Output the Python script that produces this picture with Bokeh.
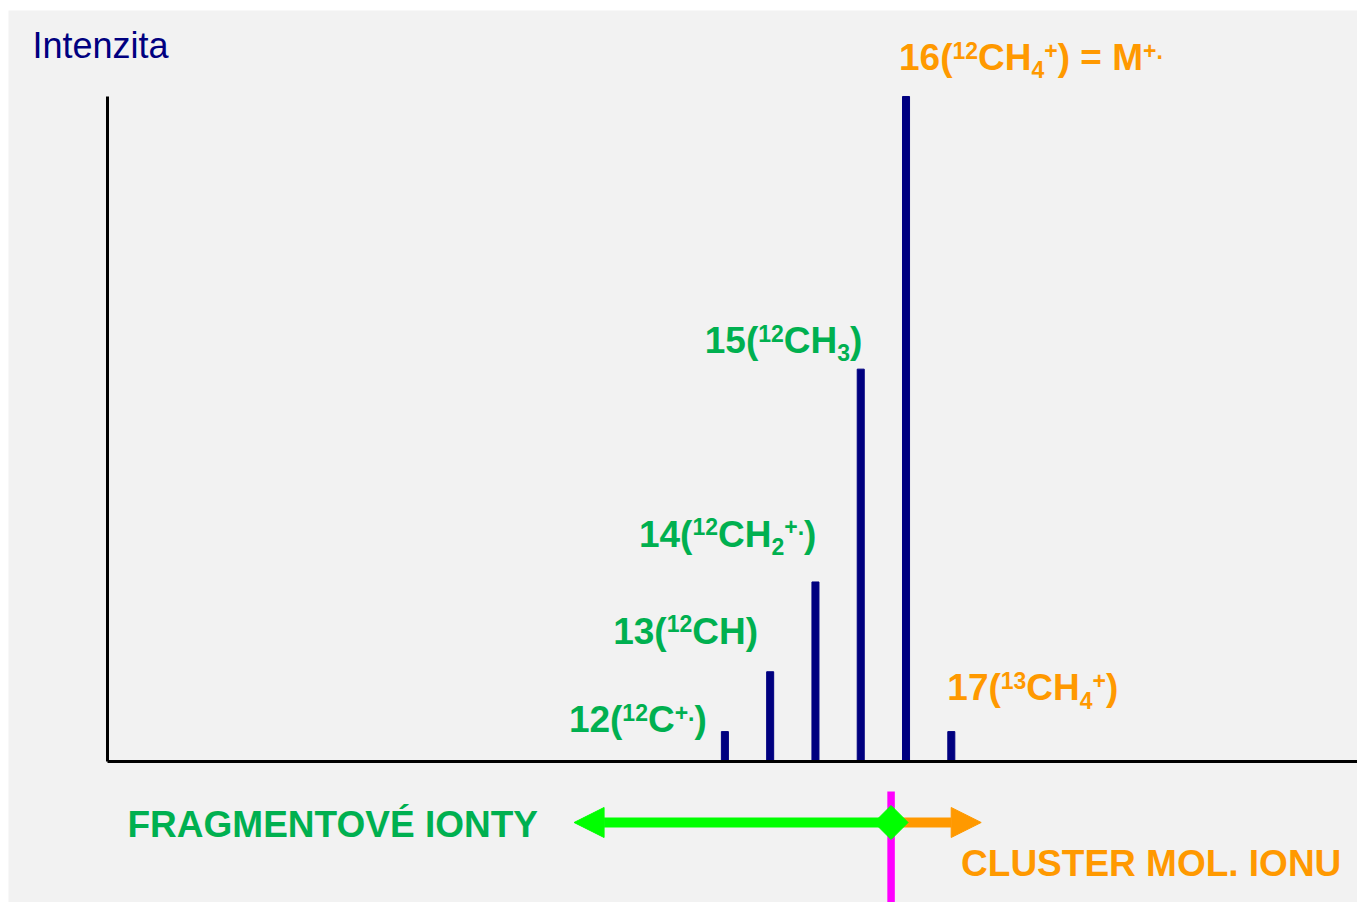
import math
from bokeh.plotting import figure
from bokeh.models import ColumnDataSource, LinearAxis, FixedTicker, Arrow, NormalHead
from bokeh.core.properties import value
from bokeh.embed import file_html
from bokeh.resources import INLINE

# ---------------- data ----------------
masses = [12, 13, 14, 15, 16, 17]
intensities = [4.5, 13.5, 27, 59, 100, 4.5]
# label runs: (text, kind) kind: n = normal, sup = superscript, sub = subscript
label_parts = [
    [("12(", "n"), ("12", "sup"), ("C", "n"), ("+.", "sup"), (")", "n")],
    [("13(", "n"), ("12", "sup"), ("CH", "n"), (")", "n")],
    [("14(", "n"), ("12", "sup"), ("CH", "n"), ("2", "sub"), ("+.", "sup"), (")", "n")],
    [("15(", "n"), ("12", "sup"), ("CH", "n"), ("3", "sub"), (")", "n")],
    [("16(", "n"), ("12", "sup"), ("CH", "n"), ("4", "sub"), ("+", "sup"), (") = M", "n"), ("+.", "sup")],
    [("17(", "n"), ("13", "sup"), ("CH", "n"), ("4", "sub"), ("+", "sup"), (")", "n")],
]
label_groups = ["frag", "frag", "frag", "frag", "mol", "mol"]
axis_title = "Intenzita"
fragment_text = "FRAGMENTOVÉ IONTY"
cluster_text = "CLUSTER MOL. IONU"
split_mass = 15.67          # boundary between fragment ions and molecular-ion cluster
fragment_arrow_end = 8.67
cluster_arrow_end = 17.66

# ---------------- layout / style ----------------
W, H = 1357, 902
X_RANGE = (-3.82, 25.97)
Y_RANGE = (-21.2, 112.93)
AXIS_X0 = -1.634
ARROW_Y = -9.17
MAGENTA_TOP = -4.51
BG = "#f2f2f2"
NAVY = "#000080"
LABEL_GREEN = "#00b050"
ORANGE = "#ff9900"
BRIGHT_GREEN = "#00ff00"
MAGENTA = "#ff00ff"
FONT = "Liberation Sans"
F_MAIN = 37
F_SCRIPT = 23
SUP_SHIFT = -12
SUB_SHIFT = 7.5
BASE_FIX = 0.35   # baseline correction (fraction of font size)
# label anchor offsets (px) relative to each peak top: left start, baseline
label_offsets = [(-156.0, 1), (-157.0, -27.7), (-176.5, -35.0), (-156.0, -16.0), (-7.0, -26.0), (-4.0, -31.0)]
group_colors = {"frag": LABEL_GREEN, "mol": ORANGE}

# Arial/Liberation Sans Bold advance widths (em)
ADV = {c: 0.556 for c in "0123456789"}
ADV.update({"(": 0.333, ")": 0.333, "C": 0.722, "H": 0.722, "+": 0.584,
            ".": 0.278, " ": 0.278, "=": 0.584, "M": 0.833})


def run_width(txt, size):
    return sum(ADV.get(ch, 0.6) for ch in txt) * size


p = figure(width=W, height=H, x_range=X_RANGE, y_range=Y_RANGE,
           x_axis_type=None, y_axis_type=None, toolbar_location=None,
           output_backend="svg", min_border=0, min_border_left=8, min_border_top=10)
p.background_fill_color = BG
p.border_fill_color = "white"
p.outline_line_color = None

# axes through the origin
xax = LinearAxis(fixed_location=0, bounds=(AXIS_X0, X_RANGE[1]), ticker=FixedTicker(ticks=[]),
                 axis_line_width=3, axis_line_color="black", major_tick_line_color=None,
                 minor_tick_line_color=None, major_label_text_font_size="0px")
yax = LinearAxis(fixed_location=AXIS_X0, bounds=(0, 100), ticker=FixedTicker(ticks=[]),
                 axis_line_width=3, axis_line_color="black", major_tick_line_color=None,
                 minor_tick_line_color=None, major_label_text_font_size="0px")
p.add_layout(xax, "below")
p.add_layout(yax, "left")

# peaks
p.vbar(x=masses, top=intensities, bottom=0, width=0.155, color=NAVY)

# peak labels built from runs
rows = dict(x=[], y=[], text=[], xo=[], yo=[], size=[], color=[])
for m, inten, parts, grp, (dx, dy) in zip(masses, intensities, label_parts, label_groups, label_offsets):
    cx = dx
    for txt, kind in parts:
        size = F_MAIN if kind == "n" else F_SCRIPT
        shift = 0 if kind == "n" else (SUP_SHIFT if kind == "sup" else SUB_SHIFT)
        rows["x"].append(m)
        rows["y"].append(inten)
        rows["text"].append(txt)
        rows["xo"].append(cx)
        rows["yo"].append(dy + shift - BASE_FIX * size)
        rows["size"].append(f"{size}px")
        rows["color"].append(group_colors[grp])
        cx += run_width(txt, size)
src = ColumnDataSource(rows)
p.text(x="x", y="y", text="text", x_offset="xo", y_offset="yo", text_font_size="size",
       text_color="color", text_font=value(FONT), text_font_style="bold",
       text_align="left", text_baseline="alphabetic", source=src)

# axis title
p.text(x=[AXIS_X0], y=[100], text=[axis_title], x_offset=-75, y_offset=-38.7 - BASE_FIX * 36,
       text_font=value(FONT), text_font_size=value("36px"), text_color=NAVY,
       text_align="left", text_baseline="alphabetic")

# magenta divider
p.segment(x0=[split_mass], y0=[MAGENTA_TOP], x1=[split_mass], y1=[Y_RANGE[0]],
          line_color=MAGENTA, line_width=7.5)

# arrows
p.add_layout(Arrow(end=NormalHead(size=30, fill_color=BRIGHT_GREEN, line_color=BRIGHT_GREEN, line_width=1),
                   x_start=split_mass, y_start=ARROW_Y, x_end=fragment_arrow_end, y_end=ARROW_Y,
                   line_color=BRIGHT_GREEN, line_width=10))
p.add_layout(Arrow(end=NormalHead(size=30, fill_color=ORANGE, line_color=ORANGE, line_width=1),
                   x_start=split_mass, y_start=ARROW_Y, x_end=cluster_arrow_end, y_end=ARROW_Y,
                   line_color=ORANGE, line_width=10))
p.scatter(x=[split_mass], y=[ARROW_Y], marker="square", angle=math.pi / 4, size=24,
          color=BRIGHT_GREEN, level="overlay")

# range captions
p.text(x=[AXIS_X0], y=[ARROW_Y], text=[fragment_text], x_offset=20, y_offset=15 - BASE_FIX * F_MAIN,
       text_font=value(FONT), text_font_size=value(f"{F_MAIN}px"), text_font_style="bold",
       text_color=LABEL_GREEN, text_align="left", text_baseline="alphabetic")
p.text(x=[split_mass], y=[ARROW_Y], text=[cluster_text], x_offset=70, y_offset=53.7 - BASE_FIX * F_MAIN,
       text_font=value(FONT), text_font_size=value(f"{F_MAIN}px"), text_font_style="bold",
       text_color=ORANGE, text_align="left", text_baseline="alphabetic")

open("out.html", "w").write(file_html(p, INLINE))
